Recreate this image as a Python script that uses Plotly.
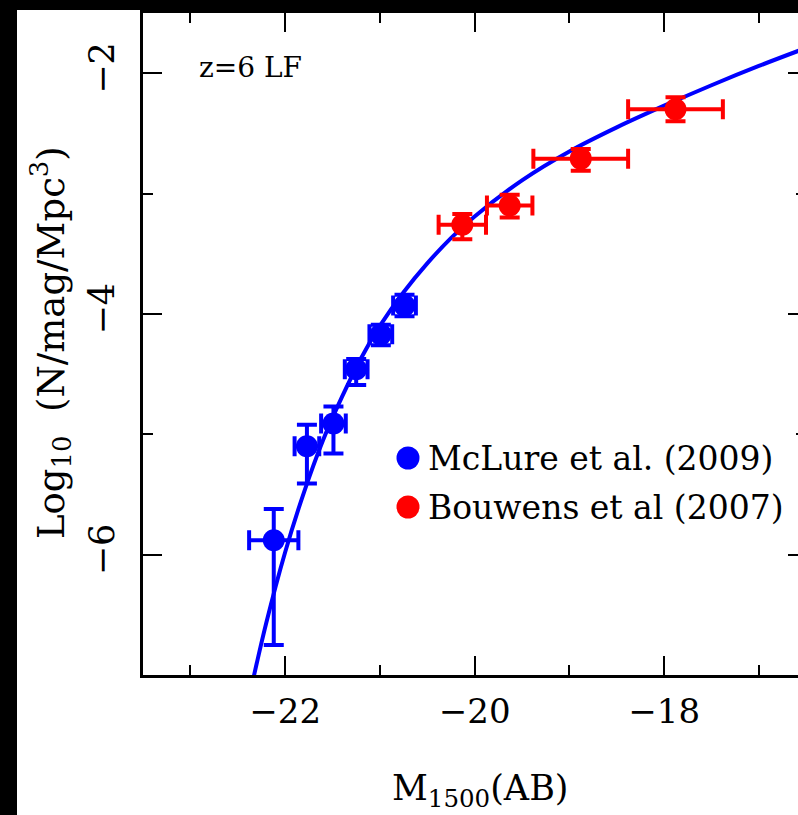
import plotly.graph_objects as go

# McLure et al. (2009) binned z=6 luminosity function
mclure_mag = [-22.12, -21.77, -21.49, -21.25, -20.99, -20.74]
mclure_logphi = [-5.88, -5.10, -4.91, -4.46, -4.17, -3.93]
mclure_dmag = [0.26, 0.13, 0.13, 0.12, 0.12, 0.12]
mclure_err_up = [0.26, 0.18, 0.14, 0.085, 0.08, 0.09]
mclure_err_dn = [0.87, 0.31, 0.25, 0.13, 0.09, 0.09]

# Bouwens et al. (2007) faint-end points
bouwens_mag = [-20.13, -19.63, -18.88, -17.88]
bouwens_logphi = [-3.26, -3.10, -2.71, -2.30]
bouwens_dmag = [0.25, 0.24, 0.50, 0.50]
bouwens_err_up = [0.09, 0.09, 0.08, 0.10]
bouwens_err_dn = [0.12, 0.10, 0.10, 0.10]

# Schechter fit curve samples
fit_mag = [-22.35, -22.2, -22.0, -21.8, -21.6, -21.4, -21.2, -21.0, -20.75, -20.5,
           -20.25, -20.0, -19.5, -19.0, -18.5, -18.0, -17.5, -17.0, -16.5]
fit_logphi = [-7.08, -6.57, -5.98, -5.48, -5.05, -4.69, -4.37, -4.10, -3.82, -3.58,
              -3.37, -3.19, -2.89, -2.65, -2.45, -2.27, -2.10, -1.94, -1.79]

x_ticks = [-22, -20, -18]
y_ticks = [-2, -4, -6]
legend_labels = ["McLure et al. (2009)", "Bouwens et al (2007)"]
legend_colors = ["#0000ff", "#ff0000"]

FONT = "DejaVu Serif"
W, H = 798, 815
L, R, T, B = 143, 0, 13, 140
pw, ph = W - L - R, H - T - B


def px_x(p):
    return (p - L) / pw


def px_y(p):
    return (H - B - p) / ph


fig = go.Figure()

fig.add_trace(go.Scatter(
    x=fit_mag, y=fit_logphi, mode="lines", line=dict(color="#0000ff", width=4, shape="spline"),
    hoverinfo="skip", showlegend=False,
))

for mag, lp, dm, up, dn, col in [
    (mclure_mag, mclure_logphi, mclure_dmag, mclure_err_up, mclure_err_dn, legend_colors[0]),
    (bouwens_mag, bouwens_logphi, bouwens_dmag, bouwens_err_up, bouwens_err_dn, legend_colors[1]),
]:
    fig.add_trace(go.Scatter(
        x=mag, y=lp, mode="markers", yaxis="y2",
        marker=dict(color=col, size=22, line=dict(width=0)),
        error_x=dict(type="data", array=dm, color=col, thickness=4, width=10),
        error_y=dict(type="data", array=up, arrayminus=dn, symmetric=False,
                     color=col, thickness=4, width=10),
        showlegend=False,
    ))

axis_common = dict(showgrid=False, zeroline=False, tickcolor="black", tickwidth=2)

fig.update_layout(
    width=W, height=H,
    margin=dict(l=L, r=R, t=T, b=B, pad=0),
    paper_bgcolor="black", plot_bgcolor="white",
    font=dict(family=FONT, color="black"),
    xaxis=dict(
        range=[-23.5, -23.5 + pw / 94.75], tickvals=x_ticks,
        ticks="inside", ticklen=19, showline=True, linecolor="black", linewidth=2.5,
        mirror="ticks", tickfont=dict(size=34, family=FONT), ticklabelstandoff=4,
        minor=dict(dtick=1, tick0=-23, ticks="inside", ticklen=10, tickwidth=2, tickcolor="black"),
        **axis_common,
    ),
    yaxis=dict(
        range=[-7, -1.5], tickvals=y_ticks, tickangle=-90,
        ticks="inside", ticklen=19, showline=True, linecolor="black", linewidth=2.5,
        mirror=False, tickfont=dict(size=35, family=FONT), ticklabelstandoff=12,
        minor=dict(dtick=1, tick0=-7, ticks="inside", ticklen=10, tickwidth=2, tickcolor="black"),
        **axis_common,
    ),
    yaxis2=dict(
        range=[-7, -1.5], overlaying="y", side="right", anchor="x",
        tickvals=y_ticks, ticks="inside", ticklen=10, showticklabels=False, showline=False,
        minor=dict(dtick=1, tick0=-7, ticks="inside", ticklen=2, tickwidth=2, tickcolor="black"),
        **axis_common,
    ),
)

# white page area inside the black border
fig.add_shape(type="rect", xref="paper", yref="paper", layer="below",
              x0=px_x(17), x1=px_x(820), y0=px_y(10), y1=px_y(840),
              fillcolor="white", line=dict(width=0))

annotations = [
    dict(text="z=6 LF", x=px_x(197), y=px_y(67), xanchor="left", yanchor="middle",
         font=dict(size=28)),
    dict(text="M<sub>1500</sub>(AB)", x=px_x(480), y=px_y(790), xanchor="center",
         yanchor="middle", font=dict(size=35)),
    dict(text="Log<sub>10</sub>\u00a0\u00a0(N/mag/Mpc<sup>3</sup>)", x=px_x(50), y=px_y(343),
         xanchor="center", yanchor="middle", textangle=-90, font=dict(size=37)),
]
for i, (lab, col) in enumerate(zip(legend_labels, legend_colors)):
    yc = 458 + 49 * i
    annotations.append(dict(text=lab, x=px_x(426), y=px_y(yc), xanchor="left",
                            yanchor="middle", font=dict(size=33)))
    fig.add_shape(type="circle", xref="paper", yref="paper",
                  xsizemode="pixel", ysizemode="pixel",
                  xanchor=px_x(408), yanchor=px_y(yc),
                  x0=-11.5, x1=11.5, y0=-11.5, y1=11.5,
                  fillcolor=col, line=dict(width=0))

for a in annotations:
    a.update(xref="paper", yref="paper", showarrow=False)
    a["font"].setdefault("family", FONT)
    a["font"].setdefault("color", "black")
fig.update_layout(annotations=annotations)

fig.write_html("out.html")
